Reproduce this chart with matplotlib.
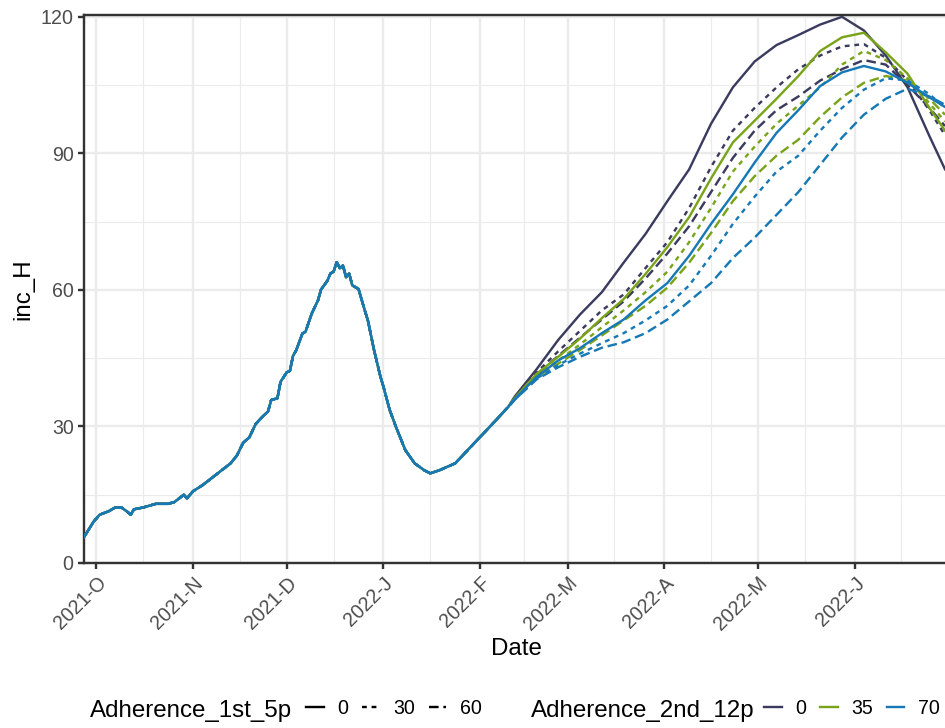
import numpy as np
import matplotlib
matplotlib.use("Agg")
import matplotlib.pyplot as plt
import matplotlib.dates as mdates
from matplotlib.lines import Line2D

plt.rcParams['font.family'] = ['Liberation Sans', 'DejaVu Sans']

# ---------------------------------------------------------------- data
start_date = np.datetime64('2021-09-27')
end_date = np.datetime64('2022-06-30')

# shared trajectory before the adherence scenarios separate
shared_days = [0, 1, 3, 5, 8, 10, 12, 14, 15, 16, 19, 23, 27, 29, 32, 33, 35, 38,
               41, 44, 47, 49, 51, 53, 55, 57, 59, 60, 62, 63, 65, 66, 67, 68, 70,
               71, 73, 75, 76, 78, 79, 80, 81, 82, 83, 84, 85, 86, 88, 90, 91, 93,
               95, 96, 98, 100, 103, 106, 109, 111, 114, 119, 123, 127, 131, 136]
shared_inc = [5.7, 6.8, 9.0, 10.6, 11.4, 12.2, 12.2, 11.2, 10.6, 11.8, 12.2, 13.0,
              13.0, 13.4, 15.0, 14.2, 15.8, 17.1, 18.7, 20.3, 21.9, 23.6, 26.4, 27.6,
              30.5, 32.0, 33.3, 35.8, 36.2, 39.8, 41.9, 42.2, 45.5, 46.7, 50.4, 50.8,
              54.8, 57.7, 60.1, 62.0, 63.6, 64.0, 66.1, 64.8, 65.4, 62.8, 63.6, 61.0,
              60.2, 55.5, 53.3, 46.7, 41.0, 38.7, 33.6, 29.9, 24.8, 21.9, 20.4, 19.7,
              20.4, 21.9, 24.8, 27.7, 30.6, 34.3]

# scenario trajectories (day offsets from the start date)
scenario_days = [138, 145, 152, 159, 166, 173, 180, 187, 194, 201, 208, 215, 222,
                 229, 236, 243, 250, 257, 264, 271, 276]

inc_1st0_2nd0 = [36.5, 42.5, 49.0, 54.6, 59.5, 66.0, 72.3, 79.5, 86.5, 96.5, 104.5,
                 110.2, 113.8, 116.0, 118.3, 120.0, 117.0, 111.5, 104.5, 93.8, 86.5]
inc_1st30_2nd0 = [36.2, 41.8, 46.5, 51.0, 55.5, 59.0, 64.8, 70.5, 78.0, 87.0, 95.0,
                  100.0, 104.5, 108.5, 111.5, 113.5, 114.0, 111.0, 106.0, 99.5, 94.0]
inc_1st60_2nd0 = [36.0, 41.3, 45.5, 49.5, 53.5, 57.5, 62.5, 68.0, 74.0, 81.5, 89.0,
                  95.0, 99.5, 102.5, 106.0, 108.5, 110.5, 109.5, 105.0, 100.0, 96.0]
inc_1st0_2nd35 = [36.2, 41.5, 45.3, 49.3, 53.8, 58.0, 63.5, 69.4, 76.0, 84.5, 92.4,
                  97.2, 102.0, 107.0, 112.5, 115.5, 116.5, 112.2, 107.5, 100.0, 95.0]
inc_1st30_2nd35 = [36.0, 41.0, 44.5, 48.0, 51.8, 55.5, 59.5, 64.0, 70.5, 78.0, 86.0,
                   91.5, 96.5, 100.5, 104.5, 109.5, 112.5, 110.5, 106.5, 101.0, 97.0]
inc_1st60_2nd35 = [36.0, 40.8, 43.8, 46.8, 50.0, 53.3, 56.5, 60.5, 66.0, 72.5, 79.5,
                   85.0, 89.5, 93.0, 98.0, 102.3, 105.5, 107.0, 106.0, 102.0, 98.5]
inc_1st0_2nd70 = [36.0, 40.8, 44.5, 47.2, 50.5, 53.5, 57.7, 61.5, 67.5, 74.5, 81.0,
                  88.0, 94.5, 99.5, 104.8, 107.8, 109.2, 108.0, 105.5, 102.3, 100.2]
inc_1st30_2nd70 = [35.8, 40.5, 43.5, 46.0, 48.3, 50.5, 53.3, 56.5, 61.0, 67.5, 74.5,
                   80.5, 86.0, 89.5, 95.0, 100.0, 104.0, 106.5, 106.0, 103.0, 100.0]
inc_1st60_2nd70 = [35.8, 40.3, 43.0, 45.3, 47.3, 48.5, 50.5, 53.5, 57.5, 61.5, 67.0,
                   71.5, 76.5, 81.5, 87.5, 93.5, 98.5, 102.0, 104.2, 102.5, 100.7]

adherence_1st_levels = ["0", "30", "60"]
adherence_2nd_levels = ["0", "35", "70"]

month_ticks = ['2021-10-01', '2021-11-01', '2021-12-01', '2022-01-01', '2022-02-01',
               '2022-03-01', '2022-04-01', '2022-05-01', '2022-06-01', '2022-07-01']
month_labels = ['2021-O', '2021-N', '2021-D', '2022-J', '2022-F', '2022-M',
                '2022-A', '2022-M', '2022-J']
y_ticks = [0, 30, 60, 90, 120]
y_minor = [15, 45, 75, 105]

scenarios = {
    ("0", "0"): inc_1st0_2nd0, ("30", "0"): inc_1st30_2nd0, ("60", "0"): inc_1st60_2nd0,
    ("0", "35"): inc_1st0_2nd35, ("30", "35"): inc_1st30_2nd35, ("60", "35"): inc_1st60_2nd35,
    ("0", "70"): inc_1st0_2nd70, ("30", "70"): inc_1st30_2nd70, ("60", "70"): inc_1st60_2nd70,
}

# ---------------------------------------------------------------- style
colour_2nd = {"0": "#3b3b5f", "35": "#79a41a", "70": "#1679b6"}
dash_1st = {"0": '-', "30": (0, (2, 2)), "60": (0, (4, 2))}
LW = 1.15
GRID = "#EBEBEB"
DARK = "#333333"
TICK_FS = 9.4
TITLE_FS = 11.6

W, H, DPI = 945, 728, 150
fig = plt.figure(figsize=(W / DPI, H / DPI), dpi=DPI)
px_l, px_r, px_t, px_b = 84, 945, 15, 563
ax = fig.add_axes([px_l / W, 1 - px_b / H, (px_r - px_l) / W, (px_b - px_t) / H])


def to_num(days):
    d = start_date + np.array(days, dtype='timedelta64[D]')
    return mdates.date2num(d.astype('datetime64[s]').astype(object))


for a2 in adherence_2nd_levels:
    for a1 in adherence_1st_levels:
        days = shared_days + scenario_days
        vals = shared_inc + scenarios[(a1, a2)]
        ax.plot(to_num(days), vals, color=colour_2nd[a2], lw=LW,
                linestyle=dash_1st[a1], solid_joinstyle='round',
                dash_capstyle='butt', zorder=3)

# axes limits and ticks
major_dates = np.array(month_ticks, dtype='datetime64[D]')
minor_dates = major_dates[:-1] + (major_dates[1:] - major_dates[:-1]) / 2
to_dnum = lambda arr: mdates.date2num(np.asarray(arr).astype('datetime64[s]').astype(object))

ax.set_xlim(to_dnum([start_date, end_date]))
ax.set_ylim(0, 120.4)

ax.set_xticks(to_dnum(major_dates[:-1]))
ax.set_xticklabels(month_labels, rotation=45, ha='right', va='top',
                   rotation_mode='anchor')
ax.set_xticks(to_dnum(minor_dates), minor=True)
ax.set_yticks(y_ticks)
ax.set_yticks(y_minor, minor=True)

ax.tick_params(which='major', length=2.75, width=LW, color=DARK, labelsize=TICK_FS,
               labelcolor='#4D4D4D', pad=2.2)
ax.tick_params(which='minor', length=0)

ax.grid(which='major', color=GRID, lw=LW, zorder=0)
ax.grid(which='minor', color=GRID, lw=LW / 2, zorder=0)
ax.set_axisbelow(True)

for s in ['left', 'top', 'bottom']:
    ax.spines[s].set_color(DARK)
    ax.spines[s].set_linewidth(LW)
ax.spines['right'].set_visible(False)

ax.set_xlabel("Date", fontsize=TITLE_FS, color='black')
ax.set_ylabel("inc_H", fontsize=TITLE_FS, color='black')
ax.xaxis.set_label_coords((516 - px_l) / (px_r - px_l), -(638 - px_b) / (px_b - px_t))
ax.yaxis.set_label_coords(-(px_l - 34) / (px_r - px_l), 0.5)

# ---------------------------------------------------------------- legends
leg_y = 1 - 708 / H
fig.text(90 / W, 1 - 717 / H, "Adherence_1st_5p", fontsize=TITLE_FS, ha='left',
         va='baseline')
fig.text(531 / W, 1 - 717 / H, "Adherence_2nd_12p", fontsize=TITLE_FS, ha='left',
         va='baseline')

lt_handles = [Line2D([], [], color='black', lw=LW, linestyle=dash_1st[a])
              for a in adherence_1st_levels]
col_handles = [Line2D([], [], color=colour_2nd[a], lw=LW) for a in adherence_2nd_levels]

em = TICK_FS * DPI / 72
common = dict(loc='center left', frameon=False, fontsize=TICK_FS, ncol=3,
              handlelength=17.5 / em, handletextpad=13.5 / em, columnspacing=14 / em,
              borderpad=0, borderaxespad=0)
fig.legend(lt_handles, adherence_1st_levels, bbox_to_anchor=(306 / W, leg_y), **common)
fig.legend(col_handles, adherence_2nd_levels, bbox_to_anchor=(764 / W, leg_y), **common)

fig.savefig("out.png", dpi=DPI)
